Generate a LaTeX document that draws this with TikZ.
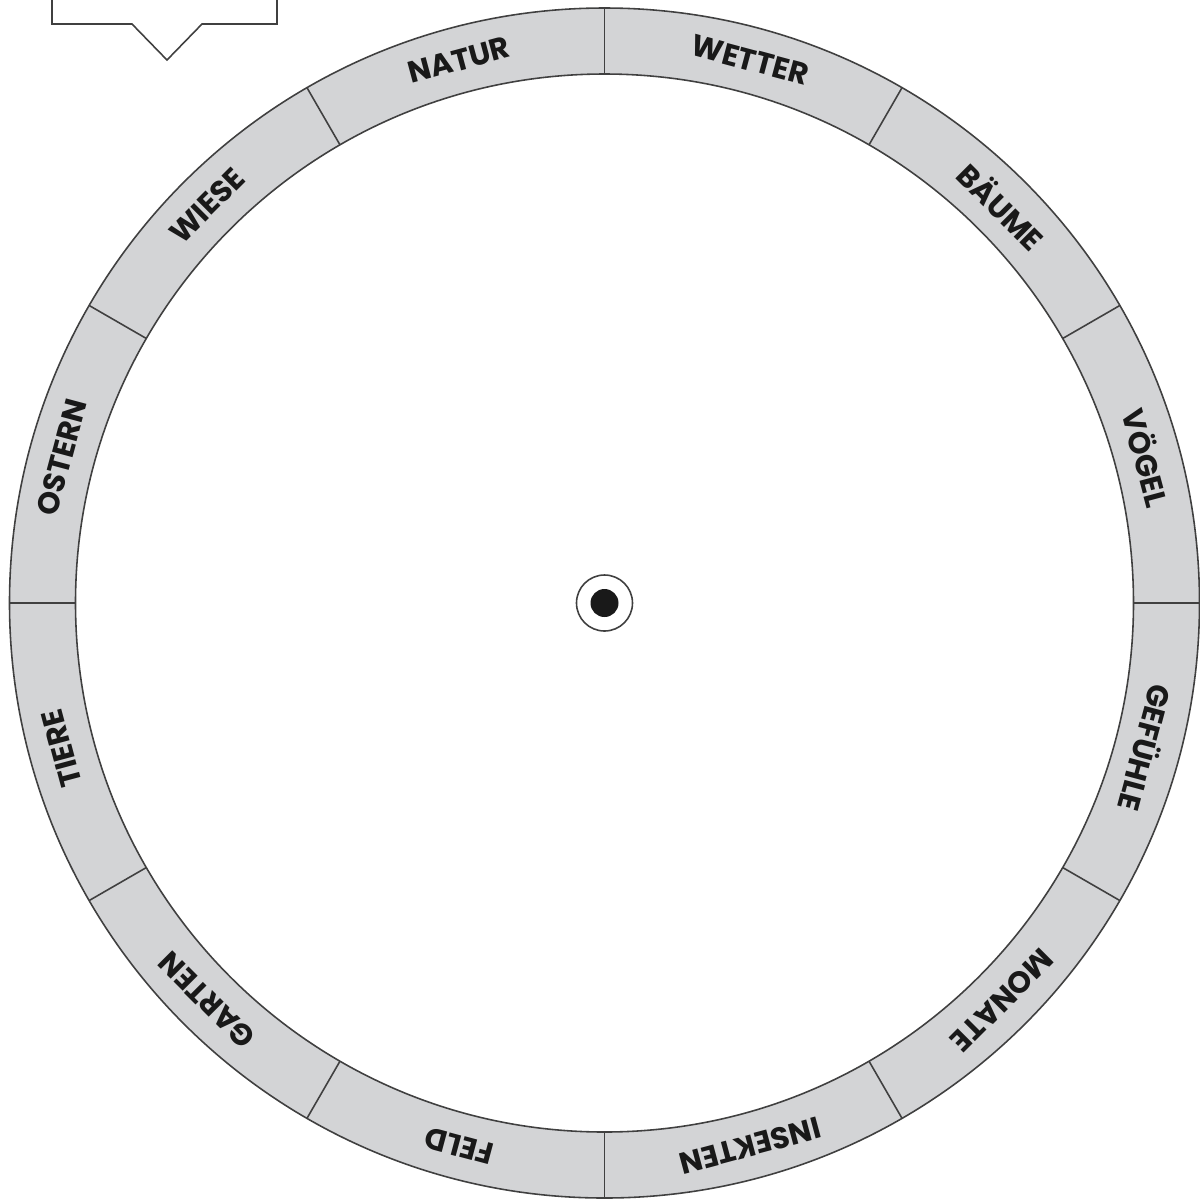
\documentclass[tikz,border=0pt]{standalone}
\usepackage{fontspec}
\setmainfont{Poppins}
\usetikzlibrary{positioning}
\definecolor{wheelgray}{RGB}{211,212,214}

\begin{document}
\begin{tikzpicture}[
    ring/.style={fill=wheelgray, draw=black!75, line width=0.45pt},
    divider/.style={draw=black!75, line width=0.45pt},
    sector/.style={font=\fontsize{8.6}{10}\selectfont\bfseries, text=black!90, inner sep=0pt}
]
\useasboundingbox (0,0) rectangle (12,-12);
\coordinate (c) at (6.045,-6.03);

% pointer box, cut by the top edge
\draw[divider] (0.52,0.3) -- (0.52,-0.24) -- (1.32,-0.24) -- (1.67,-0.60)
    -- (2.02,-0.24) -- (2.77,-0.24) -- (2.77,0.3);

% wheel ring
\path[ring, even odd rule] (c) circle[radius=5.95] (c) circle[radius=5.29];
\foreach \a in {0,30,...,330}
  \draw[divider] (c) ++(\a:5.29) -- ++(\a:0.66);

% sector labels
\foreach \ang/\txt [count=\i] in {105/NATUR, 75/WETTER, 45/BÄUME, 15/VÖGEL,
    -15/GEFÜHLE, -45/MONATE, -75/INSEKTEN, -105/FELD, -135/GARTEN,
    -165/TIERE, 165/OSTERN, 135/WIESE}
  \node[sector, rotate=\ang-90] (lbl\i) at ([shift={(\ang:5.62)}]c) {\txt};

% hub
\draw[divider, fill=white] (c) circle[radius=0.28];
\fill[black!90] (c) circle[radius=0.14];
\end{tikzpicture}
\end{document}
